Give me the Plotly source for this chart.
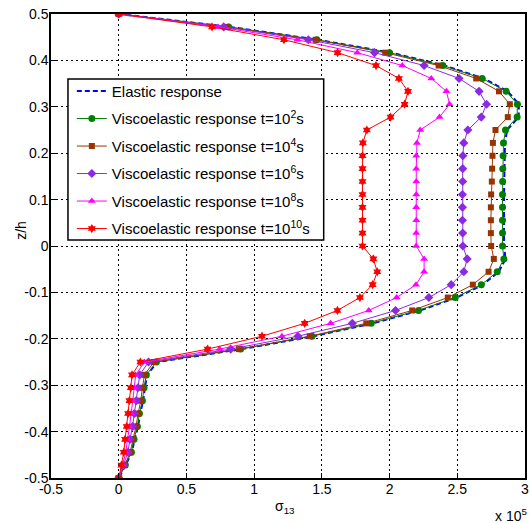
import plotly.graph_objects as go

# z/h positions (37 points from 0.5 to -0.5)
z = [0.5 - k / 36 for k in range(37)]

elastic = [0, 0.820, 1.470, 2.010, 2.405, 2.695, 2.872, 2.955, 2.953, 2.868, 2.852, 2.849, 2.847, 2.846,
           2.845, 2.845, 2.845, 2.845, 2.845, 2.856, 2.806, 2.688, 2.496, 2.225, 1.876, 1.438, 0.910,
           0.285, 0.210, 0.193, 0.181, 0.158, 0.143, 0.117, 0.097, 0.051, 0]
t1e2 = [0, 0.812, 1.463, 2.000, 2.393, 2.684, 2.861, 2.944, 2.942, 2.856, 2.841, 2.838, 2.836, 2.835,
        2.834, 2.834, 2.834, 2.834, 2.834, 2.844, 2.795, 2.677, 2.485, 2.214, 1.865, 1.427, 0.900,
        0.278, 0.204, 0.187, 0.175, 0.153, 0.138, 0.113, 0.094, 0.049, 0]
t1e4 = [0, 0.800, 1.454, 1.968, 2.362, 2.640, 2.808, 2.888, 2.873, 2.782, 2.763, 2.760, 2.757, 2.755,
        2.750, 2.748, 2.748, 2.748, 2.750, 2.770, 2.731, 2.615, 2.430, 2.167, 1.828, 1.410, 0.888,
        0.260, 0.190, 0.175, 0.163, 0.143, 0.128, 0.105, 0.085, 0.045, 0]
t1e6 = [0, 0.775, 1.400, 1.889, 2.255, 2.513, 2.661, 2.716, 2.677, 2.578, 2.548, 2.541, 2.540, 2.540,
        2.538, 2.538, 2.538, 2.540, 2.541, 2.573, 2.548, 2.455, 2.290, 2.044, 1.725, 1.323, 0.827,
        0.220, 0.155, 0.142, 0.130, 0.115, 0.102, 0.083, 0.068, 0.035, 0]
t1e8 = [0, 0.733, 1.319, 1.762, 2.094, 2.308, 2.420, 2.443, 2.369, 2.226, 2.202, 2.197, 2.197, 2.197,
        2.197, 2.197, 2.197, 2.197, 2.197, 2.255, 2.255, 2.195, 2.052, 1.846, 1.565, 1.205, 0.745,
        0.190, 0.125, 0.115, 0.105, 0.092, 0.080, 0.065, 0.052, 0.028, 0]
t1e10 = [0, 0.689, 1.220, 1.616, 1.900, 2.069, 2.136, 2.111, 2.007, 1.832, 1.803, 1.800, 1.800, 1.800,
         1.800, 1.800, 1.800, 1.800, 1.800, 1.880, 1.909, 1.875, 1.781, 1.615, 1.373, 1.058, 0.656,
         0.160, 0.098, 0.089, 0.079, 0.069, 0.059, 0.047, 0.037, 0.020, 0]

series_names = ["Elastic response",
                "Viscoelastic response t=10<sup>2</sup>s",
                "Viscoelastic response t=10<sup>4</sup>s",
                "Viscoelastic response t=10<sup>6</sup>s",
                "Viscoelastic response t=10<sup>8</sup>s",
                "Viscoelastic response t=10<sup>10</sup>s"]

x_tickvals = [-0.5, 0, 0.5, 1, 1.5, 2, 2.5, 3]
x_ticktext = ["-0.5", "0", "0.5", "1", "1.5", "2", "2.5", "3"]
y_tickvals = [0.5, 0.4, 0.3, 0.2, 0.1, 0, -0.1, -0.2, -0.3, -0.4, -0.5]
y_ticktext = ["0.5", "0.4", "0.3", "0.2", "0.1", "0", "-0.1", "-0.2", "-0.3", "-0.4", "-0.5"]

FONT = "Liberation Sans, Arial"

fig = go.Figure()

styles = [
    (t1e2, "#008000", "circle", 7),
    (t1e4, "#993300", "square", 6),
    (t1e6, "#8A2BE2", "diamond", 7),
    (t1e8, "#FF00FF", "triangle-up", 7),
    (t1e10, "#FF0000", "hexagram", 7),
]

fig.add_trace(go.Scatter(x=elastic, y=z, mode="lines", name=series_names[0],
                         line=dict(color="#0000FF", width=2, dash="5px,3px"),
                         legendgroup="g0", legendrank=1))
for i, (vals, col, sym, sz) in enumerate(styles):
    fig.add_trace(go.Scatter(x=vals, y=z, mode="lines+markers", name=series_names[i + 1],
                             line=dict(color=col, width=1),
                             marker=dict(color=col, symbol=sym, size=sz, line=dict(width=0)),
                             legendgroup="g%d" % (i + 1), legendrank=i + 2))

axis_common = dict(showline=True, linecolor="black", linewidth=1.5, mirror=True,
                   ticks="inside", ticklen=5, tickcolor="black", automargin=False,
                   showgrid=True, gridcolor="black", gridwidth=1, griddash="2px,3px",
                   zeroline=False, tickfont=dict(family=FONT, size=14, color="black"))

fig.update_xaxes(range=[-0.5, 3], tickvals=x_tickvals, ticktext=x_ticktext,
                 ticklabelstandoff=-3, **axis_common)
fig.update_yaxes(range=[-0.5, 0.5], tickvals=y_tickvals, ticktext=y_ticktext,
                 ticklabelstandoff=-2, **axis_common)

# axis titles and exponent label
fig.add_annotation(text="σ<sub>13</sub>", xref="paper", yref="paper", x=0.494, y=-0.063,
                   xanchor="center", yanchor="middle", showarrow=False,
                   font=dict(family=FONT, size=14, color="black"))
fig.add_annotation(text="z/h", xref="paper", yref="paper", x=-0.062, y=0.534, textangle=-90,
                   xanchor="center", yanchor="middle", showarrow=False,
                   font=dict(family=FONT, size=14, color="black"))
fig.add_annotation(text="x 10<sup>5</sup>", xref="paper", yref="paper", x=1.009, y=-0.08,
                   xanchor="right", yanchor="middle", showarrow=False,
                   font=dict(family=FONT, size=14, color="black"))

# legend frame
fig.add_shape(type="rect", xref="paper", yref="paper", x0=0.0358, x1=0.5753, y0=0.5129, y1=0.860,
              line=dict(color="black", width=1.5), fillcolor="white", layer="above")

fig.update_layout(
    width=530, height=523,
    margin=dict(l=51, r=5, t=14, b=45),
    paper_bgcolor="white", plot_bgcolor="white",
    font=dict(family=FONT, size=14, color="black"),
    legend=dict(x=0.044, y=0.869, xanchor="left", yanchor="top",
                bgcolor="rgba(0,0,0,0)", borderwidth=0,
                font=dict(family=FONT, size=15, color="black"),
                tracegroupgap=5, traceorder="grouped", itemwidth=30),
    showlegend=True,
)

fig.write_html("out.html", config={"displayModeBar": False},
               post_script="document.body.style.margin='0';document.body.style.padding='0';")
